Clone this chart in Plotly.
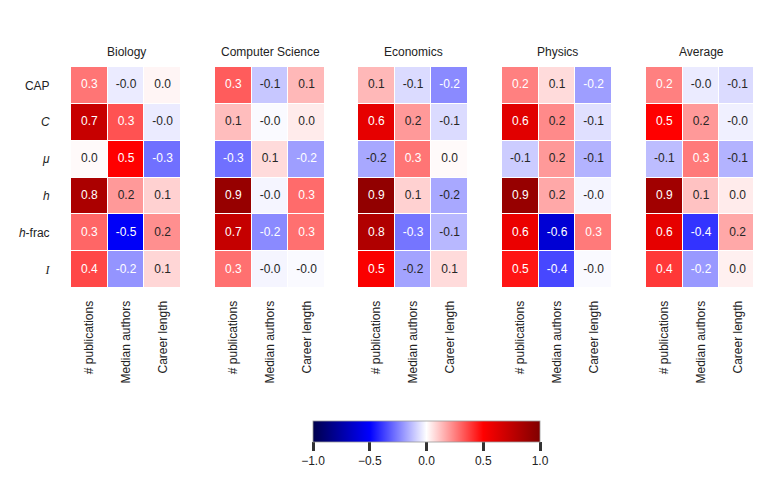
import plotly.graph_objects as go

# data (correlations)
fields = ["Biology", "Computer Science", "Economics", "Physics", "Average"]
rows = ["CAP", "<i>C</i>", "<i>μ</i>", "<i>h</i>", "<i>h</i>-frac",
        '<span style="font-family:Liberation Serif;font-style:italic">I</span>']
cols = ["# publications", "Median authors", "Career length"]

biology = [[0.27, -0.04, 0.02],
           [0.72, 0.34, -0.04],
           [0.01, 0.50, -0.28],
           [0.83, 0.20, 0.09],
           [0.30, -0.52, 0.22],
           [0.36, -0.21, 0.08]]
comp_sci = [[0.32, -0.11, 0.14],
            [0.13, -0.01, 0.04],
            [-0.28, 0.07, -0.19],
            [0.91, -0.02, 0.29],
            [0.73, -0.23, 0.28],
            [0.28, -0.02, -0.01]]
economics = [[0.14, -0.07, -0.23],
             [0.60, 0.20, -0.07],
             [-0.17, 0.27, 0.01],
             [0.93, 0.09, -0.17],
             [0.81, -0.27, -0.14],
             [0.52, -0.18, 0.07]]
physics = [[0.25, 0.07, -0.19],
           [0.62, 0.23, -0.06],
           [-0.10, 0.20, -0.15],
           [0.91, 0.17, -0.02],
           [0.58, -0.62, 0.26],
           [0.46, -0.36, -0.01]]
average = [[0.25, -0.04, -0.07],
           [0.50, 0.20, -0.03],
           [-0.13, 0.26, -0.15],
           [0.87, 0.12, 0.04],
           [0.60, -0.40, 0.17],
           [0.39, -0.20, 0.03]]
all_z = [biology, comp_sci, economics, physics, average]

cb_vals = [-1.0, -0.5, 0.0, 0.5, 1.0]
cb_text = ["−1.0", "−0.5", "0.0", "0.5", "1.0"]

# matplotlib "seismic"
seismic = [[0.0, "rgb(0,0,76)"], [0.25, "rgb(0,0,255)"], [0.5, "rgb(255,255,255)"],
           [0.75, "rgb(255,0,0)"], [1.0, "rgb(128,0,0)"]]


def seismic_rgb(v):
    if v >= 0.5:
        return (1 - (v - 0.5), 0.0, 0.0)
    if v >= 0:
        return (1.0, 1 - 2 * v, 1 - 2 * v)
    if v >= -0.5:
        return (1 + 2 * v, 1 + 2 * v, 1.0)
    return (0.0, 0.0, 1 - 1.4 * (-v - 0.5))


def text_color(v):
    def lin(c):
        return c / 12.92 if c <= 0.03928 else ((c + 0.055) / 1.055) ** 2.4
    r, g, b = seismic_rgb(v)
    lum = 0.2126 * lin(r) + 0.7152 * lin(g) + 0.0722 * lin(b)
    return "rgb(38,38,38)" if lum > 0.408 else "white"


W, H = 761, 485
lefts = [63, 207, 350, 494, 638]
pw = 110
y_top, y_bot = 59, 280

fig = go.Figure()
for i, (name, z) in enumerate(zip(fields, all_z)):
    ax = "" if i == 0 else str(i + 1)
    fig.add_trace(go.Heatmap(
        z=z, x=cols, y=rows, zmin=-1, zmax=1, colorscale=seismic,
        xgap=1, ygap=1, xaxis="x" + ax, yaxis="y" + ax,
        showscale=(i == 0), hoverinfo="skip",
        colorbar=dict(orientation="h", x=418.5 / W, xanchor="center",
                      y=1 - 413 / H, yanchor="top", len=227 / W, lenmode="fraction",
                      thickness=21, xpad=0, ypad=0, outlinewidth=0.8, outlinecolor="#999",
                      tickvals=cb_vals, ticktext=cb_text, ticks="outside", ticklen=9,
                      tickwidth=2.5, tickcolor="#333",
                      tickfont=dict(size=12, color="#222"))))
    xs, ys, txt, tc = [], [], [], []
    for r, row in enumerate(z):
        for c, v in enumerate(row):
            xs.append(cols[c])
            ys.append(rows[r])
            txt.append(f"{v:.1f}")
            tc.append(text_color(v))
    fig.add_trace(go.Scatter(x=xs, y=ys, text=txt, mode="text", xaxis="x" + ax, yaxis="y" + ax,
                             textfont=dict(size=12, color=tc), showlegend=False, hoverinfo="skip"))
    fig.layout["xaxis" + ax] = dict(domain=[lefts[i] / W, (lefts[i] + pw) / W], anchor="y" + ax,
                                    tickangle=-90, ticks="outside", ticklen=7,
                                    tickcolor="rgba(0,0,0,0)", showgrid=False, zeroline=False,
                                    tickfont=dict(size=12, color="#222"), automargin=False)
    fig.layout["yaxis" + ax] = dict(domain=[1 - y_bot / H, 1 - y_top / H], anchor="x" + ax,
                                    autorange="reversed", showticklabels=(i == 0),
                                    ticks="outside", ticklen=18, tickcolor="rgba(0,0,0,0)",
                                    showgrid=False, zeroline=False,
                                    tickfont=dict(size=12, color="#222"), automargin=False)
    fig.add_annotation(text=name, x=(lefts[i] + pw / 2) / W, y=1 - 44 / H, xref="paper",
                       yref="paper", xanchor="center", yanchor="middle", showarrow=False,
                       font=dict(size=12, color="#222"))

fig.update_layout(width=W, height=H, margin=dict(l=0, r=0, t=0, b=0),
                  plot_bgcolor="white", paper_bgcolor="white",
                  font=dict(family="Liberation Sans, Arial, sans-serif"))
fig.write_html("out.html")
